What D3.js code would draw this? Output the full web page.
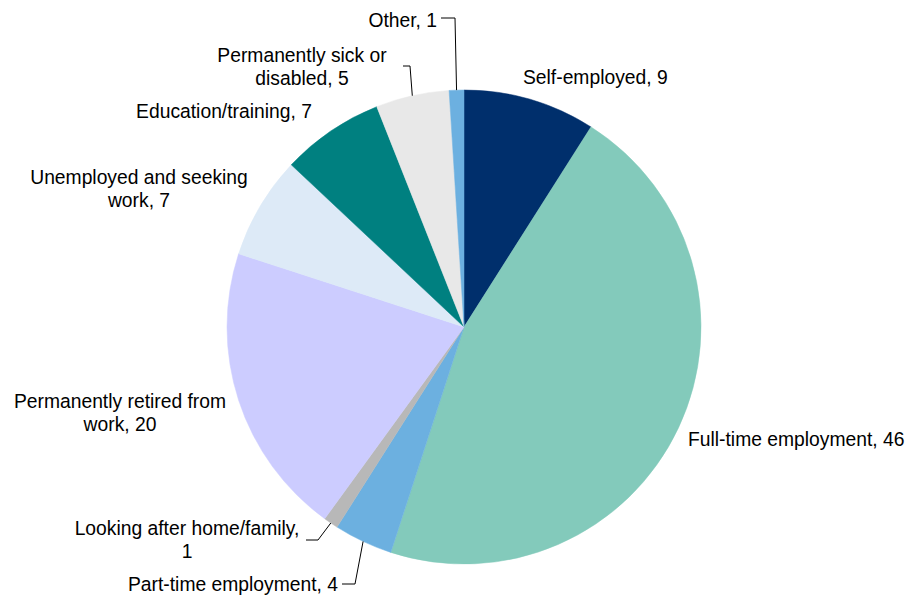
<!DOCTYPE html>
<html>
<head>
<meta charset="utf-8">
<script src="https://cdn.jsdelivr.net/npm/d3@7/dist/d3.min.js"></script>
<style>
  html, body { margin: 0; padding: 0; background: #fff; }
  svg { display: block; }
  text { font-family: "Liberation Sans", Arial, sans-serif; font-size: 19.3px; fill: #000; }
</style>
</head>
<body>
<svg id="chart" width="913" height="599"></svg>
<script>
// Main activity status, per cent
const categories = [
  "Self-employed",
  "Full-time employment",
  "Part-time employment",
  "Looking after home/family",
  "Permanently retired from work",
  "Unemployed and seeking work",
  "Education/training",
  "Permanently sick or disabled",
  "Other"
];
const values = [9, 46, 4, 1, 20, 7, 7, 5, 1];
const colors = ["#002f6c", "#83cabb", "#6cb0e0", "#b8b8b8", "#ccccff", "#ddeaf7", "#008080", "#e8e8e8", "#6cb0e0"];

// Label text lines, anchor and placement
const labelLines = [
  ["Self-employed, 9"],
  ["Full-time employment, 46"],
  ["Part-time employment, 4"],
  ["Looking after home/family,", "1"],
  ["Permanently retired from", "work, 20"],
  ["Unemployed and seeking", "work, 7"],
  ["Education/training, 7"],
  ["Permanently sick or", "disabled, 5"],
  ["Other, 1"]
];
const labelPos = [
  {x: 523, y: 77, anchor: "start"},
  {x: 688, y: 439, anchor: "start"},
  {x: 338, y: 584, anchor: "end"},
  {x: 187, y: 528, anchor: "middle"},
  {x: 120, y: 401, anchor: "middle"},
  {x: 139, y: 177, anchor: "middle"},
  {x: 224, y: 111, anchor: "middle"},
  {x: 302, y: 55, anchor: "middle"},
  {x: 437, y: 20, anchor: "end"}
];
// Leader elbows (label end -> elbow -> slice edge)
const leaders = {
  2: [[342, 584], [355, 584]],
  3: [[306, 540], [318, 540]],
  7: [[403, 66], [410, 66]],
  8: [[441, 18], [455, 18]]
};

const cx = 464, cy = 327, radius = 237;
const svg = d3.select("#chart");
const g = svg.append("g").attr("transform", `translate(${cx},${cy})`);

const pie = d3.pie().sort(null).value(d => d.value);
const arc = d3.arc().innerRadius(0).outerRadius(radius);
const data = categories.map((c, i) => ({name: c, value: values[i], color: colors[i]}));
const arcs = pie(data);

g.selectAll("path.slice")
  .data(arcs)
  .join("path")
  .attr("class", "slice")
  .attr("d", arc)
  .attr("fill", d => d.data.color)
  .attr("stroke", d => d.data.color)
  .attr("stroke-width", 0.5);

// Leader lines to the slice edge at the slice mid-angle
Object.entries(leaders).forEach(([k, pts]) => {
  const a = arcs[+k];
  const mid = (a.startAngle + a.endAngle) / 2;
  const ex = cx + Math.sin(mid) * radius;
  const ey = cy - Math.cos(mid) * radius;
  const all = pts.concat([[ex, ey]]);
  svg.append("path")
    .attr("d", d3.line()(all))
    .attr("fill", "none")
    .attr("stroke", "#000")
    .attr("stroke-width", 1);
});

// Labels
labelLines.forEach((lines, i) => {
  const p = labelPos[i];
  const t = svg.append("text")
    .attr("text-anchor", p.anchor)
    .attr("dominant-baseline", "central");
  lines.forEach((ln, j) => {
    t.append("tspan").attr("x", p.x).attr("y", p.y + j * 23).text(ln);
  });
});
</script>
</body>
</html>
